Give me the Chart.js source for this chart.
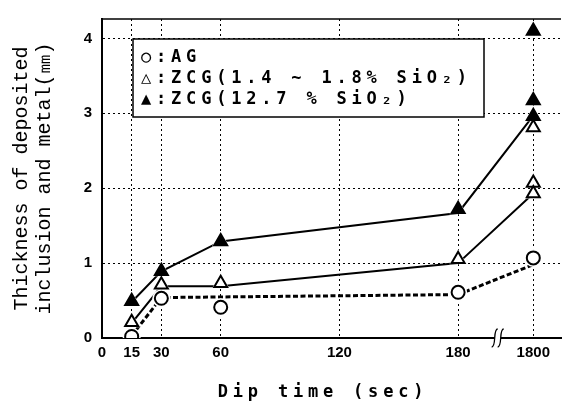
<!DOCTYPE html>
<html>
<head>
<meta charset="utf-8">
<script src="https://cdn.jsdelivr.net/npm/chart.js@4"></script>
<style>
  html, body { margin: 0; padding: 0; background: #fff; }
  #wrap { width: 571px; height: 405px; position: relative; }
</style>
</head>
<body>
<div id="wrap"><canvas id="grafic"></canvas></div>
<script>
// x axis: dip time (s), 1800 s sits beyond an axis break
const xTickLabels = [0, 15, 30, 60, 120, 180, 1800];

// measured points
const agTimes = [15, 30, 60, 180, 1800];
const agValues = [0.02, 0.53, 0.41, 0.61, 1.07];
const zcgLowTimes = [15, 30, 60, 180, 1800, 1800, 1800];
const zcgLowValues = [0.21, 0.71, 0.73, 1.05, 2.81, 2.07, 1.93];
const zcgHighTimes = [15, 30, 60, 180, 1800, 1800, 1800];
const zcgHighValues = [0.49, 0.89, 1.29, 1.72, 4.10, 3.17, 2.96];

// hand drawn trend lines
const agLineTimes = [15, 30, 180, 1800];
const agLineValues = [0.03, 0.54, 0.58, 0.98];
const zcgLowLineTimes = [15, 30, 60, 180, 1800];
const zcgLowLineValues = [0.20, 0.69, 0.69, 1.00, 1.93];
const zcgHighLineTimes = [15, 30, 60, 180, 1800];
const zcgHighLineValues = [0.48, 0.89, 1.29, 1.67, 2.97];

const legendLabels = ['○:AG', '△:ZCG(1.4 ~ 1.8% SiO₂)', '▲:ZCG(12.7 % SiO₂)'];
const xTitle = 'Dip time (sec)';
const yTitle = ['Thickness of deposited', 'inclusion and metal(㎜)'];

// broken axis: everything up to 180 s is linear, 1800 s is parked after the break
const BREAK_AT = 200;
const LONG_TIME = 218;
const axisPos = t => (t <= 180 ? t : LONG_TIME);
const pts = (times, values) => times.map((t, i) => ({ x: axisPos(t), y: values[i] }));

const tickFont = { family: '"Liberation Sans", Arial, sans-serif', size: 15, weight: 'bold' };
const labelFont = 'bold 17px "DejaVu Sans Mono", monospace';

function line(times, values, dash, width) {
    return {
        type: 'scatter',
        data: pts(times, values),
        showLine: true,
        borderColor: '#000',
        borderWidth: width,
        borderDash: dash,
        pointRadius: 0,
        order: 3
    };
}

function markers(times, values, style, radius, fill, halo) {
    return {
        type: 'scatter',
        data: pts(times, values),
        showLine: false,
        pointStyle: style,
        pointRadius: halo ? radius + 2.5 : radius,
        pointBorderWidth: halo ? 0 : 2,
        pointBorderColor: halo ? '#fff' : '#000',
        pointBackgroundColor: halo ? '#fff' : fill,
        order: halo ? 2 : 1
    };
}

const overlay = {
    id: 'overlay',
    afterDraw(chart) {
        const { ctx, chartArea: a, scales: { x } } = chart;
        ctx.save();
        ctx.strokeStyle = '#000';
        ctx.fillStyle = '#000';

        // top frame line
        ctx.lineWidth = 1.5;
        ctx.beginPath();
        ctx.moveTo(a.left, a.top);
        ctx.lineTo(a.right, a.top);
        ctx.stroke();

        // axis break mark
        const bx = x.getPixelForValue(BREAK_AT), by = a.bottom;
        ctx.fillStyle = '#fff';
        ctx.fillRect(bx - 3, by - 2, 6, 4);
        ctx.lineWidth = 1.3;
        [-3, 3].forEach(d => {
            ctx.beginPath();
            ctx.moveTo(bx + d + 3, by - 9);
            ctx.bezierCurveTo(bx + d - 2, by - 9, bx + d + 2, by + 9, bx + d - 3, by + 9);
            ctx.stroke();
        });

        // legend box
        const lx = a.left + 31, ly = a.top + 20, lw = 351, lh = 78;
        ctx.fillStyle = '#fff';
        ctx.fillRect(lx, ly, lw, lh);
        ctx.lineWidth = 1.5;
        ctx.strokeRect(lx, ly, lw, lh);

        ctx.fillStyle = '#000';
        ctx.font = labelFont;
        ctx.letterSpacing = '4.8px';
        ctx.textBaseline = 'middle';
        ctx.textAlign = 'left';
        legendLabels.forEach((t, i) => ctx.fillText(t, lx + 8, ly + 19 + i * 21));

        // x axis title
        ctx.textAlign = 'center';
        ctx.fillText(xTitle, a.left + 221, chart.height - 12);
        ctx.restore();
    }
};

const context = document.getElementById('grafic').getContext('2d');

new Chart(context, {
    type: 'scatter',
    data: {
        datasets: [
            line(agLineTimes, agLineValues, [5, 2.5], 3),
            line(zcgLowLineTimes, zcgLowLineValues, [], 2),
            line(zcgHighLineTimes, zcgHighLineValues, [], 2),
            markers(agTimes, agValues, 'circle', 6.5, '#fff', true),
            markers(zcgLowTimes, zcgLowValues, 'triangle', 7.5, '#fff', true),
            markers(zcgHighTimes, zcgHighValues, 'triangle', 7.5, '#000', true),
            markers(agTimes, agValues, 'circle', 6.5, '#fff', false),
            markers(zcgLowTimes, zcgLowValues, 'triangle', 7.5, '#fff', false),
            markers(zcgHighTimes, zcgHighValues, 'triangle', 7.5, '#000', false)
        ]
    },
    options: {
        responsive: true,
        maintainAspectRatio: false,
        animation: false,
        events: [],
        layout: { padding: { top: 9, left: 0, right: 0, bottom: 0 } },
        plugins: {
            legend: { display: false },
            tooltip: { enabled: false }
        },
        scales: {
            x: {
                type: 'linear',
                min: 0,
                max: 232,
                afterBuildTicks: scale => {
                    scale.ticks = xTickLabels.map(t => ({ value: axisPos(t) }));
                },
                afterFit: scale => { scale.height = 67; },
                ticks: {
                    color: '#000',
                    font: tickFont,
                    padding: 6,
                    maxRotation: 0,
                    callback: (value, index) => xTickLabels[index]
                },
                grid: {
                    color: '#000',
                    lineWidth: 1,
                    drawTicks: false
                },
                border: { color: '#000', width: 2, dash: [2, 3] }
            },
            y: {
                min: 0,
                max: 4.26,
                afterFit: scale => { scale.width = 102; },
                ticks: {
                    stepSize: 1,
                    includeBounds: false,
                    color: '#000',
                    font: tickFont,
                    padding: 10
                },
                grid: {
                    color: '#000',
                    lineWidth: 1,
                    drawTicks: false
                },
                border: { color: '#000', width: 2, dash: [2, 3] },
                title: {
                    display: true,
                    text: yTitle,
                    color: '#000',
                    font: { family: '"Liberation Mono", monospace', size: 20, lineHeight: 1.15 },
                    padding: { top: 10, bottom: 0 }
                }
            }
        }
    },
    plugins: [overlay]
});
</script>
</body>
</html>
